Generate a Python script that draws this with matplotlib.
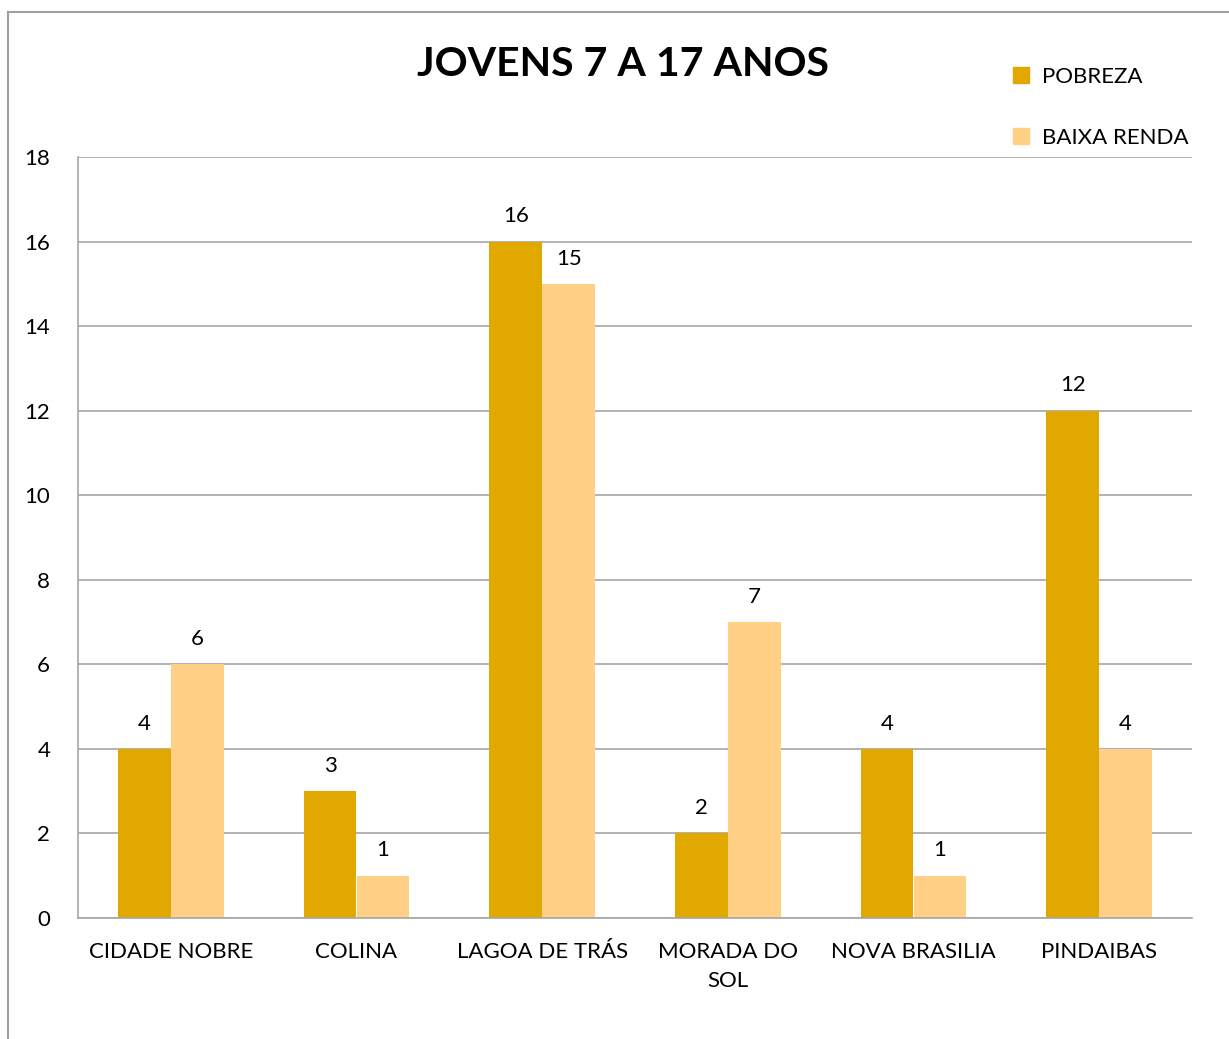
import numpy as np
import matplotlib.pyplot as plt
from matplotlib.lines import Line2D

plt.rcParams['font.family'] = ['Lato', 'DejaVu Sans']

# data
bairros = ['CIDADE NOBRE', 'COLINA', 'LAGOA DE TRÁS', 'MORADA DO\nSOL', 'NOVA BRASILIA', 'PINDAIBAS']
pobreza = [4, 3, 16, 2, 4, 12]
baixa_renda = [6, 1, 15, 7, 1, 4]
series_names = ['POBREZA', 'BAIXA RENDA']
cor_pobreza = '#E1A800'
cor_baixa = '#FFD086'

fig = plt.figure(figsize=(12.29, 10.39), dpi=100)
ax = fig.add_axes([78 / 1229, 1 - 918 / 1039, (1192 - 78) / 1229, (918 - 157) / 1039])

x = np.arange(len(bairros))
w = 0.285
b1 = ax.bar(x - w / 2, pobreza, w, color=cor_pobreza)
b2 = ax.bar(x + w / 2, baixa_renda, w, color=cor_baixa)

for bars in (b1, b2):
    for rect in bars:
        h = rect.get_height()
        ax.annotate(str(int(h)), (rect.get_x() + rect.get_width() / 2, h),
                    xytext=(0, 11), textcoords='offset points',
                    ha='center', va='bottom', fontsize=16)

ax.set_xlim(-0.5, len(bairros) - 0.5)
ax.set_ylim(0, 18)
ax.set_yticks(range(0, 19, 2))
ax.set_xticks(x)
ax.set_xticklabels(bairros, fontsize=16, linespacing=1.6)
ax.tick_params(axis='y', labelsize=16, length=0, pad=20)
ax.tick_params(axis='x', length=0, pad=17)
ax.yaxis.grid(True, color='#A6A6A6', linewidth=1.2)
ax.set_axisbelow(True)
for s in ['top', 'right']:
    ax.spines[s].set_visible(False)
ax.spines['left'].set_color('#A6A6A6')
ax.spines['bottom'].set_color('#A6A6A6')
ax.spines['left'].set_linewidth(1.2)
ax.spines['bottom'].set_linewidth(1.2)

fig.text(623 / 1229, 1 - 64 / 1039, 'JOVENS 7 A 17 ANOS', ha='center', va='center',
         fontsize=29.5, fontweight='bold')

handles = [Line2D([], [], marker='s', linestyle='', markersize=11, color=c)
           for c in (cor_pobreza, cor_baixa)]
fig.legend(handles, series_names, loc='upper left', bbox_to_anchor=(988 / 1229, 1 - 47 / 1039),
           frameon=False, fontsize=16, handletextpad=0.35, labelspacing=1.84, handlelength=1.2)

# chart border
fig.add_artist(Line2D([8 / 1229, 8 / 1229], [0, 1 - 12 / 1039], color='#A0A0A0', linewidth=1.5))
fig.add_artist(Line2D([8 / 1229, 1], [1 - 12 / 1039, 1 - 12 / 1039], color='#A0A0A0', linewidth=1.5))

fig.savefig('out.png', dpi=100)
